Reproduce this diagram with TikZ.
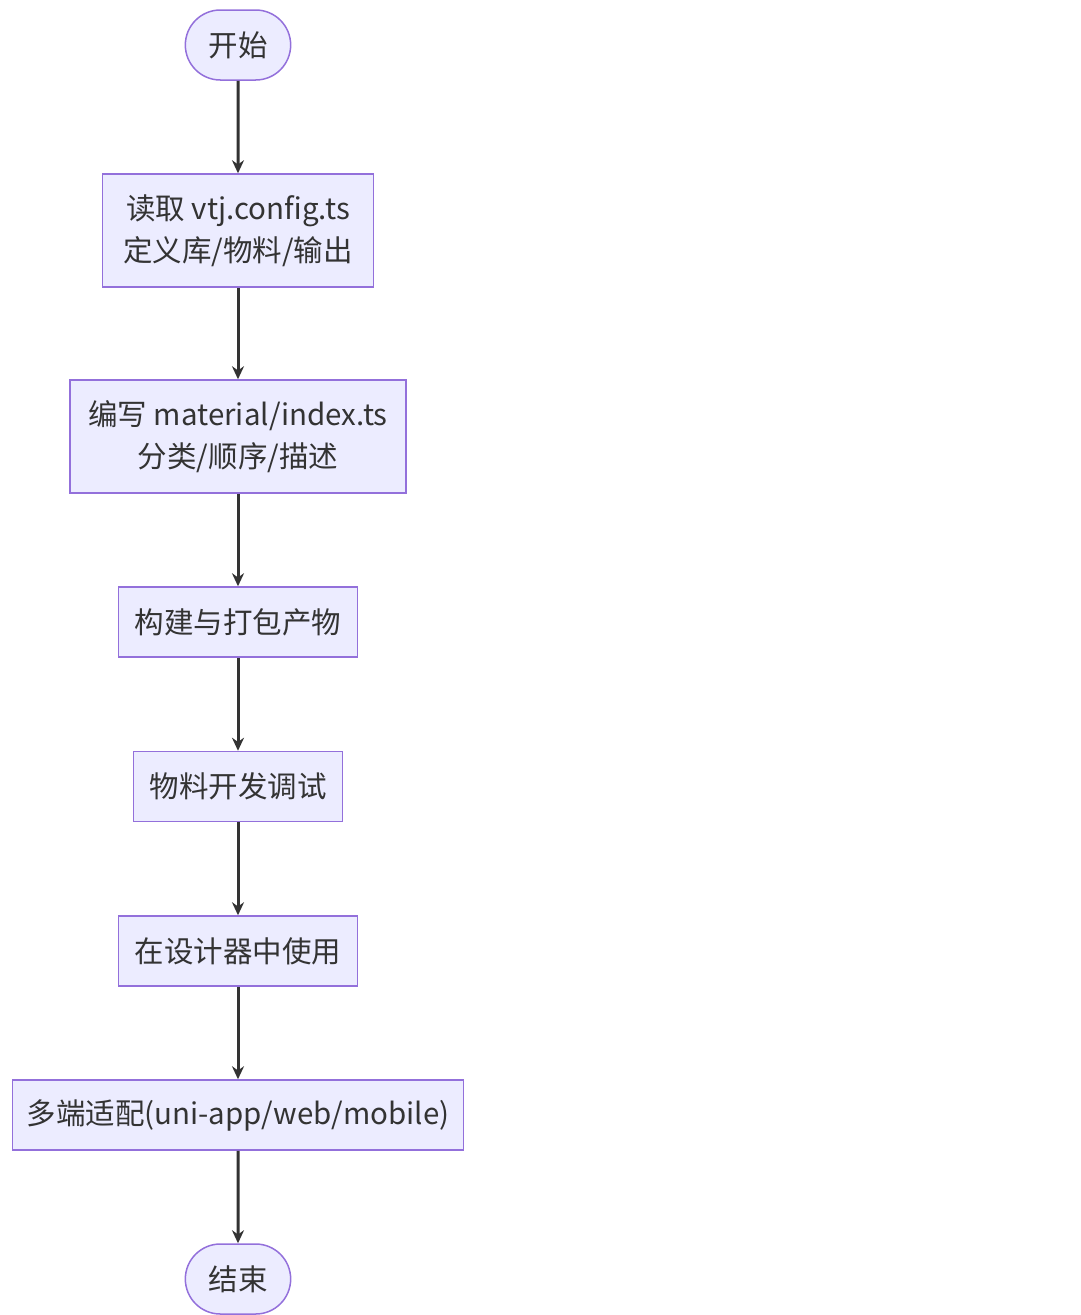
\documentclass[tikz,border=0pt]{standalone}
\usepackage{fontspec}
\setmainfont{Noto Sans CJK SC}
\usepackage{tikz}
\usetikzlibrary{shapes.misc, arrows.meta, positioning}
\definecolor{boxfill}{HTML}{ECECFF}
\definecolor{boxline}{HTML}{9370DB}
\definecolor{arrowcol}{HTML}{333333}
\tikzstyle{block}=[draw=boxline,fill=boxfill,rectangle,line width=1.5pt,inner xsep=12pt,minimum height=70pt,align=center]
\tikzstyle{terminal}=[draw=boxline,fill=boxfill,rounded rectangle,line width=1.5pt,minimum width=112pt,minimum height=70pt]
\tikzstyle{every node}=[font=\fontsize{29.5}{42}\selectfont,text=arrowcol]

\begin{document}
\begin{tikzpicture}[x=1pt,y=1pt,>={Stealth[length=13pt,width=12pt]}]
    \useasboundingbox (0,0) rectangle (1080,-1315);
    \node[terminal] (start) at (238,-45) {开始};
    \node[block, below of=start, node distance=185.5pt, minimum height=113pt, minimum width=271pt] (cfg) {读取 vtj.config.ts\\定义库/物料/输出};
    \node[block, below of=cfg, node distance=206pt, minimum height=113pt, minimum width=336pt] (mat) {编写 material/index.ts\\分类/顺序/描述};
    \node[block, below of=mat, node distance=185.5pt, minimum width=239pt] (build) {构建与打包产物};
    \node[block, below of=build, node distance=164.5pt, minimum width=209pt] (dev) {物料开发调试};
    \node[block, below of=dev, node distance=164.5pt, minimum width=239pt] (use) {在设计器中使用};
    \node[block, below of=use, node distance=164pt, minimum width=451pt] (multi) {多端适配(uni-app/web/mobile)};
    \node[terminal, below of=multi, node distance=164pt] (end) {结束};
    \draw[->, arrowcol, line width=3pt] (start) -- (cfg);
    \draw[->, arrowcol, line width=3pt] (cfg) -- (mat);
    \draw[->, arrowcol, line width=3pt] (mat) -- (build);
    \draw[->, arrowcol, line width=3pt] (build) -- (dev);
    \draw[->, arrowcol, line width=3pt] (dev) -- (use);
    \draw[->, arrowcol, line width=3pt] (use) -- (multi);
    \draw[->, arrowcol, line width=3pt] (multi) -- (end);
\end{tikzpicture}
\end{document}
